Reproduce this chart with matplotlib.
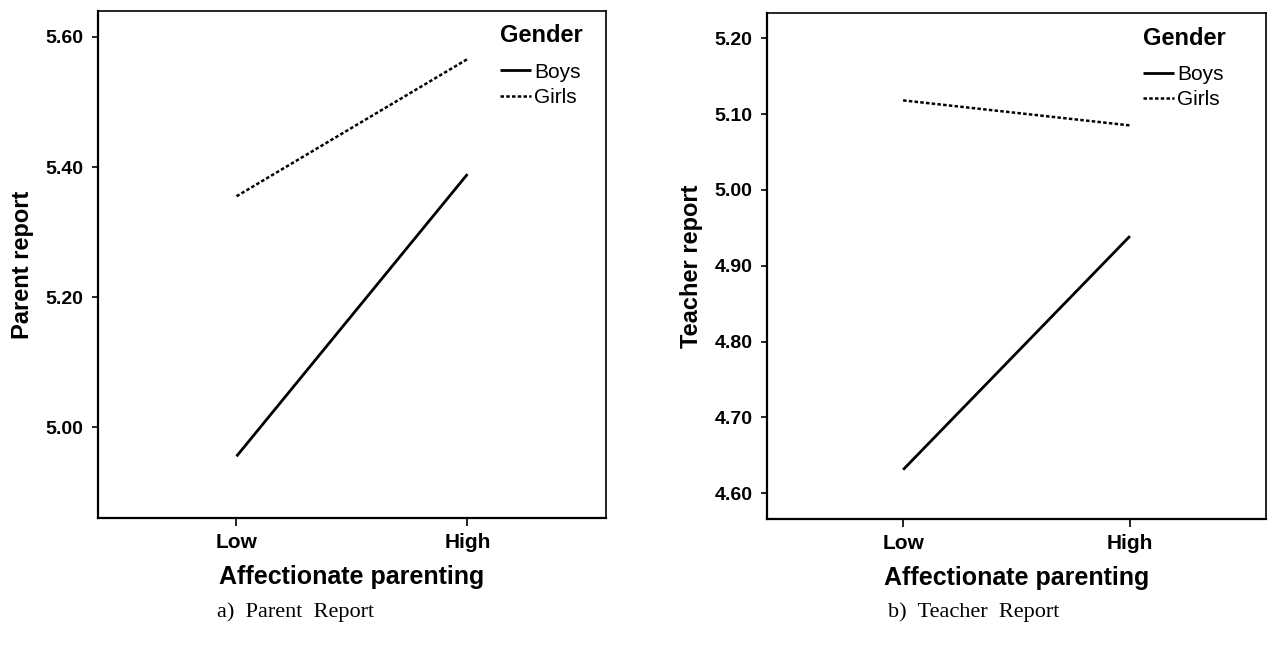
"""Affectionate parenting x Gender interaction plots (parent / teacher report)."""

import matplotlib

matplotlib.use("Agg")
import matplotlib.pyplot as plt

LEVELS = ["Low", "High"]
GENDERS = ["Boys", "Girls"]

PARENT_BOYS = [4.955, 5.389]
PARENT_GIRLS = [5.355, 5.566]
PARENT_TICKS = [5.00, 5.20, 5.40, 5.60]

TEACHER_BOYS = [4.631, 4.939]
TEACHER_GIRLS = [5.118, 5.085]
TEACHER_TICKS = [4.60, 4.70, 4.80, 4.90, 5.00, 5.10, 5.20]

SANS = ["Liberation Sans", "DejaVu Sans"]
SERIF = ["Liberation Serif", "DejaVu Serif"]


def draw_panel(ax, boys, girls, ticks, ylim, ylabel, legend_x):
    """1 パネル分の交互作用プロットを描く。"""
    xs = list(range(len(LEVELS)))
    ax.plot(xs, boys, color="black", lw=2.0, solid_capstyle="butt", label=GENDERS[0])
    ax.plot(xs, girls, color="black", lw=1.8, linestyle=(0, (1.4, 0.9)), label=GENDERS[1])

    ax.set_xlim(-0.6, 1.6)
    ax.set_ylim(*ylim)
    ax.set_xticks(xs)
    ax.set_xticklabels(LEVELS, fontsize=15, fontweight="bold", family=SANS)
    ax.set_yticks(ticks)
    ax.set_yticklabels([f"{t:.2f}" for t in ticks], fontsize=14, fontweight="bold", family=SANS)
    ax.tick_params(axis="y", direction="out", length=4.5, width=1.2, pad=6)
    ax.tick_params(axis="x", direction="out", length=6, width=1.2, pad=5)

    for side in ("left", "bottom"):
        ax.spines[side].set_linewidth(1.6)
    for side in ("top", "right"):
        ax.spines[side].set_linewidth(1.2)

    ax.set_xlabel("Affectionate parenting", fontsize=18, fontweight="bold", family=SANS, labelpad=9)
    ax.set_ylabel(ylabel, fontsize=17, fontweight="bold", family=SANS, labelpad=8)

    leg = ax.legend(
        loc="upper left",
        bbox_to_anchor=(legend_x, 0.994),
        frameon=False,
        title="Gender",
        alignment="left",
        prop={"family": SANS, "size": 15},
        title_fontproperties={"family": SANS, "size": 17, "weight": "bold"},
        handlelength=1.5,
        handletextpad=0.15,
        labelspacing=0.3,
        borderaxespad=0.3,
        borderpad=0.2,
    )
    leg._legend_box.sep = 11


def main() -> None:
    fig = plt.figure(figsize=(12.72, 6.46), dpi=100)
    ax_a = fig.add_axes([0.077, 0.198, 0.3994, 0.785])
    ax_b = fig.add_axes([0.603, 0.1966, 0.3923, 0.783])

    draw_panel(ax_a, PARENT_BOYS, PARENT_GIRLS, PARENT_TICKS, (4.86, 5.64), "Parent report", 0.771)
    draw_panel(ax_b, TEACHER_BOYS, TEACHER_GIRLS, TEACHER_TICKS, (4.566, 5.233), "Teacher report", 0.732)

    fig.text(217 / 1272, 1 - 612 / 646, "a)  Parent  Report", fontsize=16, family=SERIF, va="center")
    fig.text(888 / 1272, 1 - 612 / 646, "b)  Teacher  Report", fontsize=16, family=SERIF, va="center")

    fig.savefig("out.png", dpi=100)
    plt.close(fig)


if __name__ == "__main__":
    main()
